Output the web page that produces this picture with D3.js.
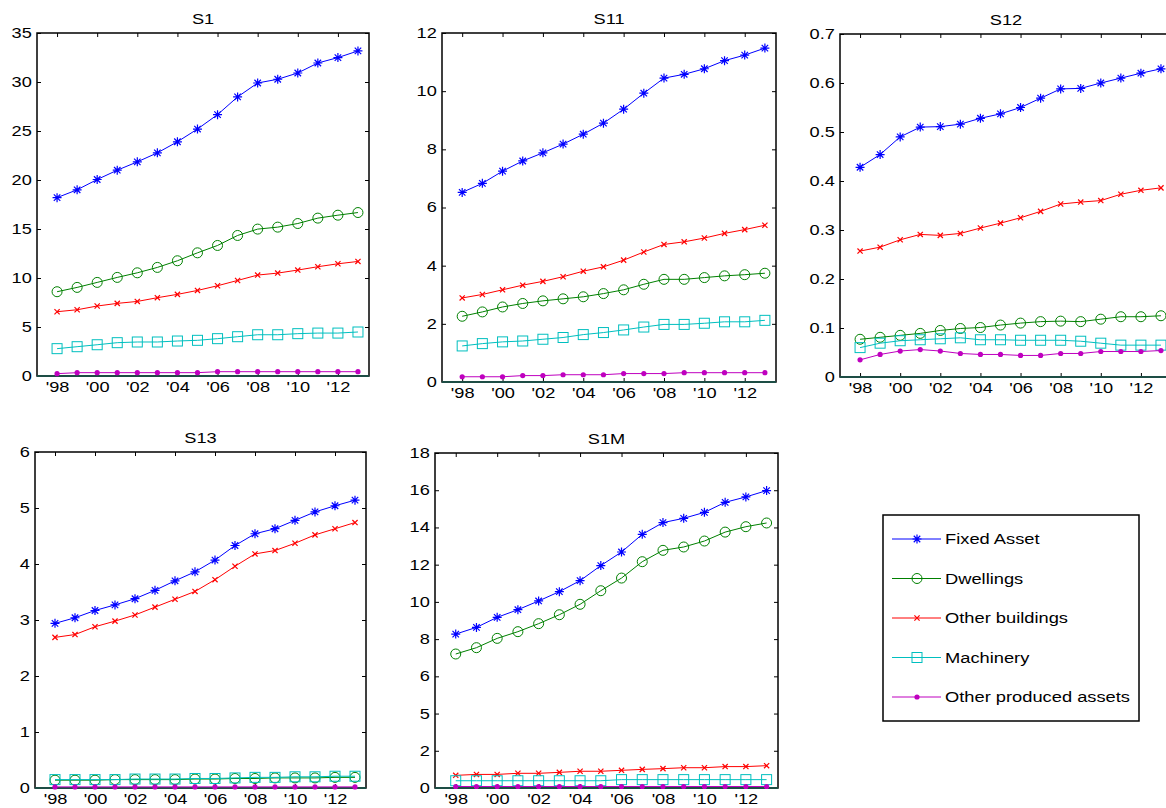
<!DOCTYPE html>
<html>
<head>
<meta charset="utf-8">
<script src="https://cdn.jsdelivr.net/npm/d3@7"></script>
<style>
  body { margin: 0; background: #fff; }
  svg { display: block; font-family: "Liberation Sans", Arial, sans-serif; }
</style>
</head>
<body>
<div id="chart"></div>
<script>
// years on the x axis
const years = [1998, 1999, 2000, 2001, 2002, 2003, 2004, 2005, 2006, 2007, 2008, 2009, 2010, 2011, 2012, 2013];
const xTickYears = [1998, 2000, 2002, 2004, 2006, 2008, 2010, 2012];
const xTickLabels = ["'98", "'00", "'02", "'04", "'06", "'08", "'10", "'12"];

const seriesNames = ['Fixed Asset', 'Dwellings', 'Other buildings', 'Machinery', 'Other produced assets'];

// S1
const s1Fixed = [18.2, 19.0, 20.05, 21.0, 21.85, 22.77, 23.9, 25.2, 26.67, 28.48, 29.9, 30.28, 30.92, 31.94, 32.49, 33.17];
const s1Dwell = [8.6, 9.04, 9.55, 10.06, 10.53, 11.08, 11.76, 12.57, 13.32, 14.34, 14.99, 15.19, 15.56, 16.11, 16.41, 16.68];
const s1Other = [6.56, 6.76, 7.14, 7.41, 7.61, 7.99, 8.33, 8.73, 9.21, 9.75, 10.3, 10.5, 10.81, 11.15, 11.45, 11.69];
const s1Mach = [2.79, 2.99, 3.19, 3.4, 3.47, 3.47, 3.57, 3.64, 3.81, 4.01, 4.21, 4.21, 4.32, 4.38, 4.38, 4.49];
const s1Prod = [0.24, 0.34, 0.34, 0.34, 0.34, 0.34, 0.34, 0.34, 0.44, 0.44, 0.44, 0.44, 0.44, 0.44, 0.44, 0.44];
const s1YTicks = [0, 5, 10, 15, 20, 25, 30, 35];
const s1YLabels = ['0', '5', '10', '15', '20', '25', '30', '35'];

// S11
const s11Fixed = [6.52, 6.83, 7.25, 7.6, 7.88, 8.18, 8.52, 8.9, 9.38, 9.93, 10.45, 10.58, 10.77, 11.05, 11.24, 11.48];
const s11Dwell = [2.26, 2.41, 2.58, 2.7, 2.79, 2.86, 2.93, 3.04, 3.17, 3.36, 3.53, 3.53, 3.59, 3.65, 3.69, 3.74];
const s11Other = [2.89, 3.01, 3.17, 3.33, 3.46, 3.62, 3.81, 3.96, 4.19, 4.47, 4.73, 4.82, 4.95, 5.11, 5.24, 5.39];
const s11Mach = [1.24, 1.32, 1.38, 1.41, 1.47, 1.53, 1.63, 1.7, 1.79, 1.89, 1.98, 1.98, 2.02, 2.07, 2.07, 2.12];
const s11Prod = [0.18, 0.18, 0.18, 0.22, 0.22, 0.25, 0.25, 0.25, 0.29, 0.29, 0.29, 0.32, 0.32, 0.32, 0.32, 0.32];
const s11YTicks = [0, 2, 4, 6, 8, 10, 12];
const s11YLabels = ['0', '2', '4', '6', '8', '10', '12'];

// S12
const s12Fixed = [0.428, 0.454, 0.49, 0.51, 0.511, 0.516, 0.528, 0.537, 0.55, 0.569, 0.588, 0.589, 0.6, 0.61, 0.62, 0.629];
const s12Dwell = [0.077, 0.081, 0.085, 0.089, 0.095, 0.099, 0.101, 0.106, 0.11, 0.113, 0.114, 0.113, 0.118, 0.123, 0.123, 0.125];
const s12Other = [0.257, 0.265, 0.28, 0.291, 0.289, 0.293, 0.304, 0.314, 0.325, 0.338, 0.353, 0.357, 0.36, 0.373, 0.381, 0.386];
const s12Mach = [0.06, 0.069, 0.074, 0.076, 0.078, 0.08, 0.076, 0.076, 0.075, 0.075, 0.075, 0.073, 0.069, 0.065, 0.065, 0.065];
const s12Prod = [0.035, 0.046, 0.053, 0.056, 0.053, 0.048, 0.046, 0.046, 0.044, 0.044, 0.048, 0.048, 0.052, 0.052, 0.052, 0.054];
const s12YTicks = [0, 0.1, 0.2, 0.3, 0.4, 0.5, 0.6, 0.7];
const s12YLabels = ['0', '0.1', '0.2', '0.3', '0.4', '0.5', '0.6', '0.7'];

// S13
const s13Fixed = [2.94, 3.04, 3.17, 3.27, 3.38, 3.53, 3.7, 3.86, 4.07, 4.33, 4.54, 4.63, 4.78, 4.93, 5.04, 5.14];
const s13Dwell = [0.14, 0.14, 0.14, 0.15, 0.15, 0.15, 0.15, 0.16, 0.16, 0.17, 0.17, 0.18, 0.18, 0.18, 0.19, 0.19];
const s13Other = [2.69, 2.74, 2.88, 2.98, 3.09, 3.23, 3.37, 3.51, 3.72, 3.96, 4.18, 4.24, 4.37, 4.52, 4.63, 4.74];
const s13Mach = [0.15, 0.15, 0.15, 0.15, 0.16, 0.16, 0.16, 0.17, 0.17, 0.18, 0.19, 0.19, 0.2, 0.2, 0.21, 0.21];
const s13Prod = [0.02, 0.02, 0.02, 0.02, 0.02, 0.02, 0.02, 0.02, 0.02, 0.02, 0.02, 0.02, 0.02, 0.02, 0.02, 0.02];
const s13YTicks = [0, 1, 2, 3, 4, 5, 6];
const s13YLabels = ['0', '1', '2', '3', '4', '5', '6'];

// S1M
const s1mFixed = [8.27, 8.63, 9.17, 9.58, 10.05, 10.55, 11.14, 11.95, 12.68, 13.63, 14.26, 14.49, 14.81, 15.35, 15.64, 15.98];
const s1mDwell = [7.2, 7.54, 8.04, 8.4, 8.83, 9.31, 9.87, 10.6, 11.28, 12.16, 12.77, 12.95, 13.27, 13.75, 14.04, 14.24];
const s1mOther = [0.68, 0.73, 0.73, 0.79, 0.79, 0.84, 0.9, 0.9, 0.95, 1.0, 1.04, 1.09, 1.09, 1.15, 1.15, 1.2];
const s1mMach = [0.39, 0.39, 0.39, 0.39, 0.39, 0.39, 0.39, 0.39, 0.45, 0.45, 0.45, 0.45, 0.45, 0.45, 0.45, 0.45];
const s1mProd = [0.08, 0.08, 0.08, 0.08, 0.08, 0.08, 0.08, 0.08, 0.08, 0.08, 0.08, 0.08, 0.08, 0.08, 0.08, 0.08];
const s1mYTicks = [0, 2, 4, 6, 8, 10, 12, 14, 16, 18];
const s1mYLabels = ['0', '2', '5', '6', '8', '10', '12', '14', '16', '18'];

const colors = ['#0000ff', '#008000', '#ff0000', '#00bfbf', '#bf00bf'];
const markers = ['star', 'circle', 'x', 'square', 'dot'];

const W = 1166, H = 808;
const xDomain = [1997, 2013.55];
const textScale = 'scale(1.3,1)';

const panels = [
  {title: 'S1', rect: [37, 33, 369, 376], yMax: 35, ticks: s1YTicks, labels: s1YLabels,
   data: [s1Fixed, s1Dwell, s1Other, s1Mach, s1Prod]},
  {title: 'S11', rect: [442, 33, 776, 382], yMax: 12, ticks: s11YTicks, labels: s11YLabels,
   data: [s11Fixed, s11Dwell, s11Other, s11Mach, s11Prod]},
  {title: 'S12', rect: [840, 34, 1172, 377], yMax: 0.7, ticks: s12YTicks, labels: s12YLabels,
   data: [s12Fixed, s12Dwell, s12Other, s12Mach, s12Prod]},
  {title: 'S13', rect: [35, 452, 366, 788], yMax: 6, ticks: s13YTicks, labels: s13YLabels,
   data: [s13Fixed, s13Dwell, s13Other, s13Mach, s13Prod]},
  {title: 'S1M', rect: [435, 453, 778, 788], yMax: 18, ticks: s1mYTicks, labels: s1mYLabels,
   data: [s1mFixed, s1mDwell, s1mOther, s1mMach, s1mProd]}
];

const svg = d3.select('#chart').append('svg')
  .attr('width', W)
  .attr('height', H);

function drawMarker(sel, type, color) {
  if (type === 'star') {
    const r = 4.5, d = r * 0.72;
    sel.append('path')
      .attr('d', `M${-r},0H${r}M0,${-r}V${r}M${-d},${-d}L${d},${d}M${-d},${d}L${d},${-d}`)
      .attr('stroke', color).attr('stroke-width', 1.2).attr('fill', 'none');
  } else if (type === 'circle') {
    sel.append('circle').attr('r', 5)
      .attr('stroke', color).attr('stroke-width', 1).attr('fill', 'none');
  } else if (type === 'x') {
    const r = 2.6;
    sel.append('path')
      .attr('d', `M${-r},${-r}L${r},${r}M${-r},${r}L${r},${-r}`)
      .attr('stroke', color).attr('stroke-width', 1.2).attr('fill', 'none');
  } else if (type === 'square') {
    sel.append('rect').attr('x', -5).attr('y', -5).attr('width', 10).attr('height', 10)
      .attr('stroke', color).attr('stroke-width', 1).attr('fill', 'none');
  } else {
    sel.append('circle').attr('r', 2.6).attr('fill', color);
  }
}

function drawPanel(p) {
  const w = p.rect[2] - p.rect[0], h = p.rect[3] - p.rect[1];
  const g = svg.append('g').attr('transform', `translate(${p.rect[0]},${p.rect[1]})`);
  const x = d3.scaleLinear().domain(xDomain).range([0, w]);
  const y = d3.scaleLinear().domain([0, p.yMax]).range([h, 0]);

  // ticks point inward, MATLAB style
  const bottom = g.append('g').attr('transform', `translate(0,${h})`)
    .call(d3.axisBottom(x).tickValues(xTickYears).tickFormat((d, i) => xTickLabels[i])
      .tickSizeInner(-4).tickSizeOuter(0).tickPadding(6));
  const left = g.append('g')
    .call(d3.axisLeft(y).tickValues(p.ticks).tickFormat((d, i) => p.labels[i])
      .tickSizeInner(-4).tickSizeOuter(0).tickPadding(4));
  g.append('g')
    .call(d3.axisTop(x).tickValues(xTickYears).tickFormat('').tickSizeInner(-4).tickSizeOuter(0));
  g.append('g').attr('transform', `translate(${w},0)`)
    .call(d3.axisRight(y).tickValues(p.ticks).tickFormat('').tickSizeInner(-4).tickSizeOuter(0));

  g.selectAll('.domain').remove();
  g.selectAll('.tick line').attr('stroke', '#000');
  [bottom, left].forEach(a => a
    .attr('font-size', 14)
    .attr('font-family', '"Liberation Sans", Arial, sans-serif'));
  g.selectAll('.tick text').attr('fill', '#000').attr('transform', textScale);

  g.append('rect').attr('width', w).attr('height', h)
    .attr('fill', 'none').attr('stroke', '#000').attr('stroke-width', 1.5);
  g.append('line').attr('x1', 0).attr('x2', w).attr('y1', h).attr('y2', h)
    .attr('stroke', '#1d4d45').attr('stroke-width', 2);

  const line = d3.line().x((d, i) => x(years[i])).y(d => y(d));
  p.data.forEach((vals, k) => {
    g.append('path').datum(vals)
      .attr('d', line)
      .attr('fill', 'none')
      .attr('stroke', colors[k])
      .attr('stroke-width', 1);
    g.append('g').selectAll('g').data(vals).enter().append('g')
      .attr('transform', (d, i) => `translate(${x(years[i])},${y(d)})`)
      .each(function() { drawMarker(d3.select(this), markers[k], colors[k]); });
  });

  g.append('text')
    .attr('transform', `translate(${w / 2},-9) ${textScale}`)
    .attr('text-anchor', 'middle')
    .attr('font-size', 14)
    .text(p.title);
}

panels.forEach(drawPanel);

// legend
const legend = svg.append('g').attr('transform', 'translate(883,515)');
legend.append('rect').attr('width', 256).attr('height', 206)
  .attr('fill', '#fff').attr('stroke', '#000').attr('stroke-width', 1.5);
const rows = legend.selectAll('g.row').data(seriesNames).enter().append('g')
  .attr('class', 'row')
  .attr('transform', (d, i) => `translate(0,${24 + i * 39.5})`);
rows.append('line').attr('x1', 9).attr('x2', 58)
  .attr('stroke', (d, i) => colors[i]).attr('stroke-width', 1);
rows.each(function(d, i) {
  const m = d3.select(this).append('g').attr('transform', 'translate(34,0)');
  drawMarker(m, markers[i], colors[i]);
});
rows.append('text')
  .attr('transform', 'translate(62,0) scale(1.22,1)')
  .attr('dy', '0.35em')
  .attr('font-size', 15)
  .text(d => d);
</script>
</body>
</html>
